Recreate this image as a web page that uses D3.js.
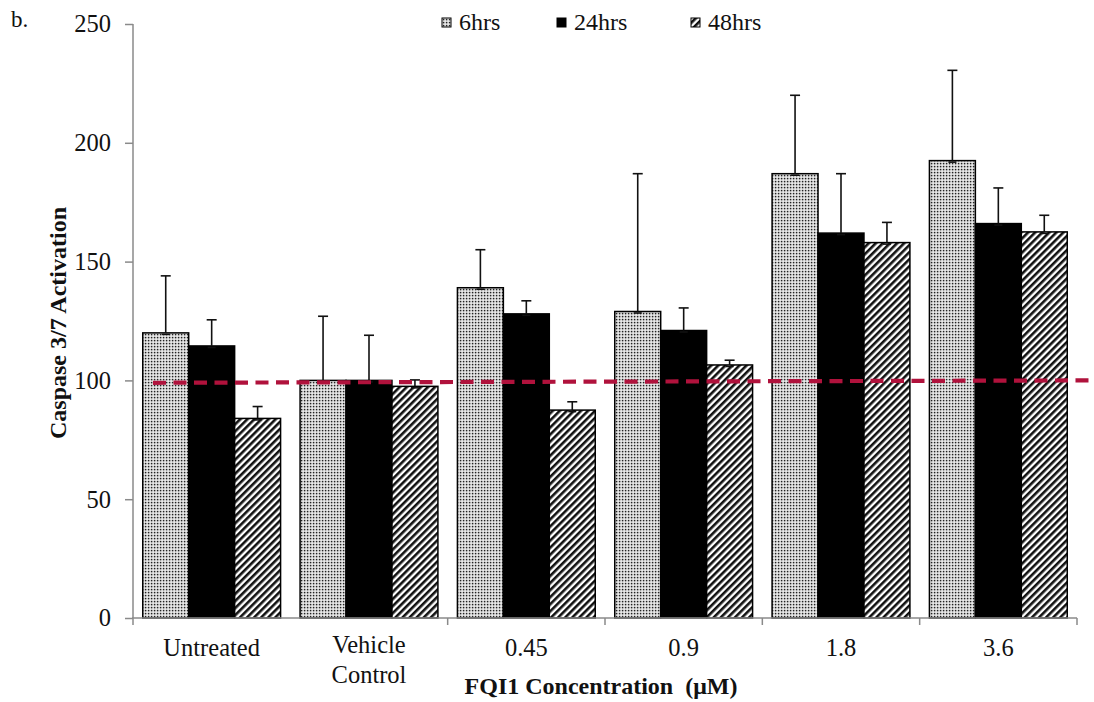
<!DOCTYPE html>
<html>
<head>
<meta charset="utf-8">
<script src="https://cdn.jsdelivr.net/npm/d3@7"></script>
<style>
  html, body { margin: 0; padding: 0; background: #fff; }
  svg { display: block; }
  text { font-family: "Liberation Serif", "Times New Roman", serif; fill: #111; }
</style>
</head>
<body>
<svg id="chart" width="1094" height="702"></svg>
<script>
// Caspase 3/7 activation by FQI1 concentration and exposure time
const categories = ["Untreated", "Vehicle Control", "0.45", "0.9", "1.8", "3.6"];
const seriesNames = ["6hrs", "24hrs", "48hrs"];
const values6h  = [120, 100, 139, 129, 187, 192.5];
const values24h = [114.5, 100, 128, 121, 162, 166];
const values48h = [84, 97.5, 87.5, 106.5, 158, 162.5];
const err6h  = [24, 27, 16, 58, 33, 38];
const err24h = [11, 19, 5.5, 9.5, 25, 15];
const err48h = [5, 2.7, 3.5, 2, 8.5, 7];
const yTicks = [0, 50, 100, 150, 200, 250];
const refLine = [99, 100];   // vehicle-normalised reference level, start and end

const svg = d3.select("#chart");
const W = 1094;
const plot = { left: 133, right: 1077, top: 24, bottom: 618 };

const x0 = d3.scaleBand().domain(categories).range([plot.left, plot.right]).paddingInner(0).paddingOuter(0);
const bw = x0.bandwidth();
const gpad = bw * 0.062;
const x1 = d3.scaleBand().domain(seriesNames).range([gpad, bw - gpad]).padding(0);
const y = d3.scaleLinear().domain([0, 250]).range([plot.bottom, plot.top]);

const valuesBySeries = { "6hrs": values6h, "24hrs": values24h, "48hrs": values48h };
const errBySeries = { "6hrs": err6h, "24hrs": err24h, "48hrs": err48h };

// fill patterns
const defs = svg.append("defs");
const dots = defs.append("pattern").attr("id", "pat-dots").attr("patternUnits", "userSpaceOnUse")
  .attr("width", 3).attr("height", 3);
dots.append("rect").attr("width", 3).attr("height", 3).attr("fill", "#f2f2f2");
dots.append("rect").attr("x", 0.8).attr("y", 0.8).attr("width", 1.6).attr("height", 1.6).attr("fill", "#222");

const stripes = defs.append("pattern").attr("id", "pat-stripes").attr("patternUnits", "userSpaceOnUse")
  .attr("width", 5).attr("height", 5).attr("patternTransform", "rotate(45)");
stripes.append("rect").attr("width", 5).attr("height", 5).attr("fill", "#fff");
stripes.append("rect").attr("width", 2.6).attr("height", 5).attr("fill", "#111");

const fills = { "6hrs": "url(#pat-dots)", "24hrs": "#000", "48hrs": "url(#pat-stripes)" };

// bars
const rows = [];
categories.forEach((c, i) => {
  seriesNames.forEach(s => {
    rows.push({ cat: c, series: s, value: valuesBySeries[s][i], err: errBySeries[s][i] });
  });
});

const gBars = svg.append("g");
gBars.selectAll("rect.bar").data(rows).join("rect")
  .attr("class", "bar")
  .attr("x", d => x0(d.cat) + x1(d.series))
  .attr("y", d => y(d.value))
  .attr("width", x1.bandwidth())
  .attr("height", d => y(0) - y(d.value))
  .attr("fill", d => fills[d.series])
  .attr("stroke", "#000")
  .attr("stroke-width", 1.5);

// error bars (upper)
const gErr = svg.append("g").attr("stroke", "#111").attr("stroke-width", 1.6);
const cx = d => x0(d.cat) + x1(d.series) + x1.bandwidth() / 2;
gErr.selectAll("line.stem").data(rows).join("line")
  .attr("x1", cx).attr("x2", cx)
  .attr("y1", d => y(d.value)).attr("y2", d => y(d.value + d.err));
gErr.selectAll("line.cap").data(rows).join("line")
  .attr("x1", d => cx(d) - 5).attr("x2", d => cx(d) + 5)
  .attr("y1", d => y(d.value + d.err)).attr("y2", d => y(d.value + d.err));
gErr.selectAll("line.base").data(rows).join("line")
  .attr("x1", d => cx(d) - 4).attr("x2", d => cx(d) + 4)
  .attr("y1", d => y(d.value) + 1.5).attr("y2", d => y(d.value) + 1.5);

// y axis
const yAxis = svg.append("g").attr("transform", `translate(${plot.left},0)`)
  .call(d3.axisLeft(y).tickValues(yTicks).tickSize(8).tickPadding(14).tickFormat(d3.format("d")));
yAxis.select(".domain").attr("stroke", "#8a8a8a").attr("stroke-width", 1.5).attr("d", `M0,${plot.top}V${plot.bottom}`);
yAxis.selectAll(".tick line").attr("stroke", "#8a8a8a").attr("stroke-width", 1.5);
yAxis.selectAll(".tick text").attr("font-size", 24.5).attr("fill", "#111")
  .style("font-family", "'Liberation Serif', 'Times New Roman', serif");

// x axis line and category separators
const gx = svg.append("g");
gx.append("line").attr("x1", plot.left - 1).attr("x2", plot.right).attr("y1", y(0)).attr("y2", y(0))
  .attr("stroke", "#8a8a8a").attr("stroke-width", 1.5);
const edges = categories.map(c => x0(c)).concat([plot.right]).filter((v, i) => i !== 1);
gx.selectAll("line.sep").data(edges).join("line")
  .attr("x1", d => d).attr("x2", d => d).attr("y1", y(0)).attr("y2", y(0) + 7)
  .attr("stroke", "#8a8a8a").attr("stroke-width", 1.5);

// category labels
const catLabels = gx.selectAll("text.cat").data(categories).join("text")
  .attr("class", "cat")
  .attr("text-anchor", "middle")
  .attr("font-size", 24.5)
  .attr("x", d => x0(d) + bw / 2)
  .attr("y", d => d.includes(" ") ? 653 : 656);
catLabels.each(function (d) {
  const parts = d.split(" ");
  const t = d3.select(this);
  parts.forEach((p, k) => {
    t.append("tspan").attr("x", x0(d) + bw / 2).attr("dy", k === 0 ? 0 : 30).text(p);
  });
});

// reference dashed line
svg.append("line")
  .attr("x1", x0(categories[0]) + 20).attr("x2", W)
  .attr("y1", y(refLine[0])).attr("y2", y(refLine[1]))
  .attr("stroke", "#b0123c").attr("stroke-width", 4.2)
  .attr("stroke-dasharray", "13,7.5");

// axis titles
svg.append("text")
  .attr("x", (plot.left + plot.right) / 2 - 4).attr("y", 694)
  .attr("text-anchor", "middle").attr("font-size", 24).attr("font-weight", "bold")
  .text("FQI1 Concentration\u00a0\u00a0(\u03bcM)");

svg.append("text")
  .attr("transform", "translate(66,323) rotate(-90)")
  .attr("text-anchor", "middle").attr("font-size", 24).attr("font-weight", "bold")
  .text("Caspase 3/7 Activation");

// panel letter
svg.append("text").attr("x", 11).attr("y", 27).attr("font-size", 23).text("b.");

// legend
const legendX = [442, 557, 691];
const lg = svg.append("g").selectAll("g").data(seriesNames).join("g")
  .attr("transform", (d, i) => `translate(${legendX[i]},0)`);
lg.append("rect").attr("x", 0).attr("y", 18).attr("width", 9).attr("height", 9)
  .attr("fill", d => fills[d]).attr("stroke", "#000").attr("stroke-width", 1);
lg.append("text").attr("x", 17).attr("y", 30).attr("font-size", 24).text(d => d);
</script>
</body>
</html>
